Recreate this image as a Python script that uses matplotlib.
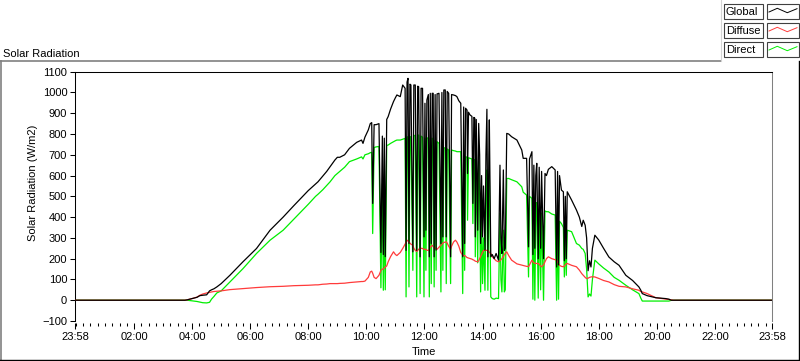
import numpy as np
import matplotlib
matplotlib.use('Agg')
import matplotlib.pyplot as plt
from matplotlib.patches import Rectangle

plt.rcParams['font.family'] = ['Liberation Sans', 'DejaVu Sans']
plt.rcParams['font.size'] = 8

# time in minutes from midnight (first point is 23:58 of the day before)
minutes = [-2, 225, 230, 240, 250, 256, 262, 270, 276, 280,
           285, 291, 300, 318, 345, 373, 401, 428, 450, 480,
           495, 500, 510, 518, 525, 535, 540, 545, 555, 565,
           580, 590, 593, 597, 604, 608, 611, 613, 616, 620,
           626, 630, 633, 635, 637, 639, 642, 645, 650, 656,
           660, 663, 670, 675, 680, 682, 684, 686, 688, 690,
           692, 696, 698, 701, 704, 706, 708, 711, 713, 716,
           719, 721, 723, 725, 728, 730, 732, 734, 736, 738,
           740, 742, 744, 746, 750, 754, 756, 758, 760, 763,
           765, 767, 770, 774, 776, 780, 784, 787, 791, 795,
           799, 801, 803, 805, 808, 809, 811, 814, 818, 820,
           822, 824, 825, 827, 830, 832, 834, 836, 838, 840,
           842, 845, 847, 849, 851, 853, 854, 857, 860, 864,
           868, 873, 876, 878, 880, 883, 885, 887, 890, 894,
           900, 911, 921, 924, 931, 935, 937, 942, 944, 946,
           948, 950, 952, 955, 957, 960, 962, 966, 969, 972,
           976, 983, 990, 993, 995, 997, 999, 1003, 1007, 1009,
           1011, 1013, 1015, 1024, 1034, 1040, 1045, 1048, 1052, 1055,
           1058, 1061, 1064, 1067, 1072, 1080, 1090, 1101, 1112, 1122,
           1136, 1150, 1163, 1167, 1170, 1180, 1198, 1218, 1225, 1230,
           1234, 1438]

global_rad = [0, 0, 2, 8, 14, 22, 24, 26, 45, 50,
              55, 64, 80, 120, 185, 249, 337, 400, 455, 528,
              560, 570, 598, 620, 643, 675, 688, 688, 700, 731,
              760, 771, 755, 785, 820, 850, 855, 466, 845, 845,
              850, 230, 790, 220, 780, 210, 870, 884, 920, 956,
              975, 988, 980, 1036, 1020, 240, 1050, 1068, 273, 1040,
              1036, 233, 1036, 1036, 240, 1030, 1028, 209, 1020, 1020,
              305, 948, 337, 964, 990, 209, 996, 273, 996, 996,
              209, 990, 241, 993, 996, 273, 1000, 305, 1012, 1012,
              305, 1005, 996, 209, 990, 988, 985, 980, 960, 948,
              209, 930, 273, 924, 915, 610, 905, 892, 885, 466,
              880, 876, 305, 870, 337, 851, 700, 273, 600, 305,
              550, 241, 700, 919, 209, 700, 868, 209, 220, 200,
              225, 193, 650, 300, 225, 627, 240, 250, 803, 800,
              787, 771, 723, 683, 683, 257, 680, 715, 220, 650,
              250, 600, 659, 200, 640, 250, 620, 200, 610, 600,
              630, 643, 627, 160, 620, 170, 600, 530, 522, 190,
              500, 200, 522, 482, 434, 400, 355, 385, 361, 300,
              142, 190, 160, 250, 313, 290, 250, 208, 185, 168,
              120, 95, 64, 48, 32, 22, 12, 8, 5, 0,
              0, 0]

diffuse_rad = [0, 0, 2, 8, 15, 24, 30, 35, 38, 40,
               42, 43, 45, 51, 56, 61, 65, 67, 70, 72,
               74, 74, 77, 78, 80, 80, 80, 81, 82, 85,
               88, 90, 90, 92, 110, 136, 140, 130, 110, 104,
               120, 144, 150, 150, 155, 160, 165, 185, 210, 233,
               220, 215, 230, 249, 270, 280, 289, 285, 280, 275,
               270, 265, 250, 240, 235, 240, 245, 250, 250, 249,
               245, 245, 245, 240, 240, 245, 255, 260, 265, 258,
               255, 250, 250, 245, 255, 265, 270, 275, 278, 280,
               281, 275, 260, 245, 260, 280, 289, 280, 260, 230,
               217, 215, 215, 212, 205, 205, 203, 201, 198, 195,
               193, 190, 188, 187, 185, 190, 200, 210, 220, 230,
               240, 241, 240, 240, 240, 235, 230, 225, 210, 200,
               190, 185, 190, 195, 200, 210, 220, 225, 233, 215,
               193, 175, 169, 167, 163, 162, 170, 193, 185, 180,
               178, 177, 177, 177, 172, 165, 161, 170, 185, 200,
               209, 200, 195, 193, 185, 175, 168, 163, 161, 165,
               170, 175, 177, 168, 161, 145, 128, 120, 110, 104,
               106, 110, 112, 113, 112, 105, 95, 88, 75, 67,
               64, 55, 48, 42, 40, 32, 12, 6, 4, 2,
               0, 0]

direct_rad = [0, 0, 0, -3, -6, -9, -12, -13, -10, 5,
              18, 35, 45, 88, 152, 225, 289, 337, 390, 462,
              500, 510, 532, 552, 570, 600, 610, 620, 640, 667,
              680, 690, 680, 700, 705, 710, 712, 321, 735, 738,
              740, 60, 560, 48, 450, 50, 745, 747, 755, 763,
              768, 771, 771, 775, 779, 16, 785, 787, 64, 787,
              787, 144, 790, 795, 16, 795, 795, 32, 790, 785,
              16, 780, 144, 780, 782, 16, 780, 80, 780, 775,
              64, 770, 144, 763, 755, 40, 745, 144, 735, 731,
              80, 728, 723, 80, 723, 720, 718, 715, 715, 715,
              32, 700, 144, 691, 688, 385, 686, 683, 680, 369,
              678, 675, 209, 672, 180, 667, 500, 40, 400, 80,
              300, 48, 500, 627, 48, 550, 610, 16, 8, 5,
              10, 8, 418, 100, 40, 337, 40, 50, 586, 586,
              580, 570, 546, 520, 506, 112, 500, 490, 5, 440,
              0, 400, 470, 10, 430, 50, 420, 0, 430, 426,
              426, 415, 410, 0, 400, 5, 380, 369, 350, 112,
              340, 120, 337, 330, 273, 265, 249, 245, 225, 150,
              16, 30, 20, 100, 193, 175, 155, 136, 110, 96,
              72, 50, 32, 10, -4, -4, -4, -4, -4, 0,
              0, 0]

x_ticks = [-2, 120, 240, 360, 480, 600, 720, 840, 960, 1080, 1200, 1320, 1438]
x_labels = ['23:58', '02:00', '04:00', '06:00', '08:00', '10:00', '12:00',
            '14:00', '16:00', '18:00', '20:00', '22:00', '23:58']
y_ticks = list(range(-100, 1101, 100))

W, H = 800, 361
fig = plt.figure(figsize=(W / 100, H / 100), dpi=100)
ax = fig.add_axes([75 / W, 40 / H, 697 / W, 249.3 / H])

# draw order: direct under diffuse under global
ax.plot(minutes, direct_rad, color='#00ee00', lw=0.9, zorder=2)
ax.plot(minutes, diffuse_rad, color='#ff3b3b', lw=0.9, zorder=3)
ax.plot(minutes, global_rad, color='black', lw=0.9, zorder=4)

ax.set_xlim(-2, 1438)
ax.set_ylim(-100, 1100)
ax.set_xticks(x_ticks)
ax.set_xticklabels(x_labels)
ax.set_xticks(np.arange(0, 1440, 15), minor=True)
ax.set_yticks(y_ticks)

ax.tick_params(axis='y', direction='out', length=3.6, width=0.75, pad=2, labelsize=8)
ax.tick_params(axis='x', which='major', direction='out', length=4.3, width=0.75, pad=2, labelsize=8)
ax.tick_params(axis='x', which='minor', direction='out', length=2.2, width=0.75)

ax.spines['top'].set_color('black')
ax.spines['left'].set_color('black')
ax.spines['right'].set_color('#808080')
ax.spines['bottom'].set_position(('outward', 1.5))
ax.spines['bottom'].set_color('none')
for s in ax.spines.values():
    s.set_linewidth(0.75)

ax.set_ylabel('Solar Radiation (W/m2)', fontsize=8)
ax.yaxis.set_label_coords(-0.0603, 0.553)
ax.yaxis.label.set_va('center')

fig.text(424 / W, 1 - 352 / H, 'Time', ha='center', va='center', fontsize=8)
fig.text(3 / W, 1 - 57 / H, 'Solar Radiation', ha='left', va='baseline', fontsize=8)

# overlay in pixel coordinates for frame and legend
ov = fig.add_axes([0, 0, 1, 1], facecolor='none')
ov.set_xlim(0, W)
ov.set_ylim(H, 0)
ov.axis('off')

ov.plot([0, 720.5], [61, 61], color='#808080', lw=1.2)
ov.plot([720.5, 720.5], [0, 61], color='#d4d4d4', lw=0.8)
ov.plot([0.6, 0.6], [61, H], color='#808080', lw=1.2)
ov.plot([799.4, 799.4], [61, H], color='black', lw=1.0)
ov.plot([0, W], [360.3, 360.3], color='black', lw=1.0)

legend_names = ['Global', 'Diffuse', 'Direct']
legend_colors = ['black', '#ff3b3b', '#00ee00']
row_tops = [4.3, 23.3, 42.3]
for name, col, top in zip(legend_names, legend_colors, row_tops):
    ov.add_patch(Rectangle((724, top), 39, 14.5, fill=False, ec='#404040', lw=0.8))
    ov.add_patch(Rectangle((767, top), 31.5, 14.5, fill=False, ec='#404040', lw=0.8))
    ov.text(726, top + 7.5, name, ha='left', va='center', fontsize=8)
    ov.plot([769, 777.3, 787.3, 797], [top + 7.7, top + 4, top + 8.4, top + 4.4],
            color=col, lw=0.7)

fig.savefig('out.png', dpi=100)
